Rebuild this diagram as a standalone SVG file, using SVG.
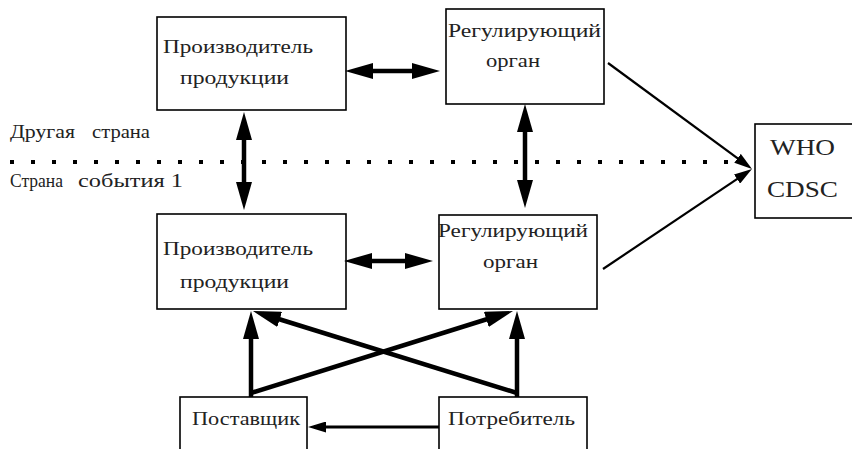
<svg xmlns="http://www.w3.org/2000/svg" width="852" height="449" viewBox="0 0 852 449">
  <style>
    .box { fill: #fff; stroke: #000; stroke-width: 1.6; }
    .lbl { font-size: 19px; fill: #222; }
    .big { font-size: 23px; }
    .bold { stroke: #000; stroke-width: 4.5; fill: none; }
    .thin { stroke: #000; stroke-width: 2.2; fill: none; }
    .border { stroke: #000; stroke-width: 4; stroke-dasharray: 4 17; fill: none; }
  </style>
  <defs>
    <marker id="head" viewBox="0 0 28 16" refX="18" refY="8" markerWidth="28" markerHeight="16" markerUnits="userSpaceOnUse" orient="auto-start-reverse">
      <path d="M0,0 L28,8 L0,16 Z" fill="#000"/>
    </marker>
    <marker id="headThin" viewBox="0 0 18 11" refX="12" refY="5.5" markerWidth="18" markerHeight="11" markerUnits="userSpaceOnUse" orient="auto">
      <path d="M0,0 L18,5.5 L0,11 Z" fill="#000"/>
    </marker>
  </defs>

  <rect width="852" height="449" fill="#fff"/>

  <g font-family="'Liberation Serif', 'Times New Roman', Times, serif">
  <!-- country border -->
  <g id="border">
    <line class="border" x1="10" y1="162" x2="745" y2="162"/>
    <text class="lbl" x="10" y="138" textLength="65" lengthAdjust="spacingAndGlyphs">Другая</text>
    <text class="lbl" x="92" y="138" textLength="58" lengthAdjust="spacingAndGlyphs">страна</text>
    <text class="lbl" x="10" y="187" textLength="53" lengthAdjust="spacingAndGlyphs">Страна</text>
    <text class="lbl" x="78" y="187" textLength="105" lengthAdjust="spacingAndGlyphs">события 1</text>
  </g>

  <!-- nodes -->
  <g id="producer-abroad">
    <rect class="box" x="157" y="17" width="189" height="93"/>
    <text class="lbl" x="163" y="53" textLength="150" lengthAdjust="spacingAndGlyphs">Производитель</text>
    <text class="lbl" x="180" y="84" textLength="109" lengthAdjust="spacingAndGlyphs">продукции</text>
  </g>
  <g id="regulator-abroad">
    <rect class="box" x="446" y="9" width="158" height="95"/>
    <text class="lbl" x="448" y="37" textLength="153" lengthAdjust="spacingAndGlyphs">Регулирующий</text>
    <text class="lbl" x="486" y="67" textLength="54" lengthAdjust="spacingAndGlyphs">орган</text>
  </g>
  <g id="producer-local">
    <rect class="box" x="157" y="214" width="189" height="95"/>
    <text class="lbl" x="163" y="255" textLength="150" lengthAdjust="spacingAndGlyphs">Производитель</text>
    <text class="lbl" x="180" y="288" textLength="109" lengthAdjust="spacingAndGlyphs">продукции</text>
  </g>
  <g id="regulator-local">
    <rect class="box" x="439" y="215" width="158" height="94"/>
    <text class="lbl" x="438" y="237" textLength="150" lengthAdjust="spacingAndGlyphs">Регулирующий</text>
    <text class="lbl" x="483" y="268" textLength="55" lengthAdjust="spacingAndGlyphs">орган</text>
  </g>
  <g id="supplier">
    <rect class="box" x="180" y="397" width="127" height="70"/>
    <text class="lbl" x="192" y="425" textLength="108" lengthAdjust="spacingAndGlyphs">Поставщик</text>
  </g>
  <g id="consumer">
    <rect class="box" x="439" y="397" width="148" height="70"/>
    <text class="lbl" x="448" y="425" textLength="127" lengthAdjust="spacingAndGlyphs">Потребитель</text>
  </g>
  <g id="who">
    <rect class="box" x="755" y="124" width="110" height="94"/>
    <text class="lbl big" x="770" y="155" textLength="65" lengthAdjust="spacingAndGlyphs">WHO</text>
    <text class="lbl big" x="767" y="197" textLength="71" lengthAdjust="spacingAndGlyphs">CDSC</text>
  </g>
  </g>

  <!-- connectors -->
  <g id="connectors">
    <line class="bold" x1="244" y1="122" x2="244" y2="200" marker-start="url(#head)" marker-end="url(#head)"/>
    <line class="bold" x1="355" y1="71" x2="430" y2="71" marker-start="url(#head)" marker-end="url(#head)"/>
    <line class="bold" x1="525" y1="114" x2="525" y2="198" marker-start="url(#head)" marker-end="url(#head)"/>
    <line class="bold" x1="354" y1="261" x2="423" y2="261" marker-start="url(#head)" marker-end="url(#head)"/>
    <line class="bold" x1="251" y1="397" x2="251" y2="321" marker-end="url(#head)"/>
    <line class="bold" x1="517" y1="397" x2="517" y2="321" marker-end="url(#head)"/>
    <line class="bold" x1="251" y1="393" x2="503.5" y2="314" marker-end="url(#head)"/>
    <line class="bold" x1="517" y1="393" x2="262.5" y2="314" marker-end="url(#head)"/>
    <line class="thin" x1="439" y1="427" x2="314" y2="427" marker-end="url(#headThin)" style="stroke-width:3"/>
    <line class="thin" x1="608" y1="63" x2="747.2" y2="165.4" marker-end="url(#headThin)"/>
    <line class="thin" x1="603" y1="269" x2="747" y2="172.3" marker-end="url(#headThin)"/>
  </g>
</svg>
